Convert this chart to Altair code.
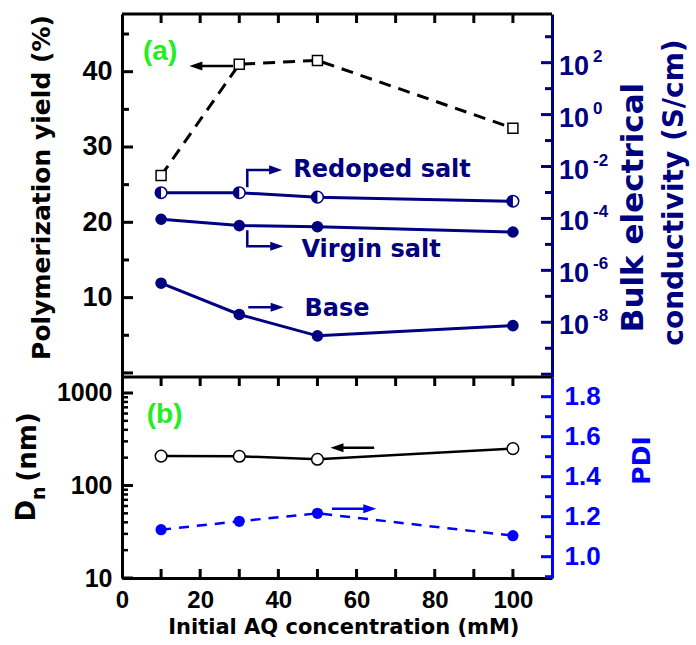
import math
import altair as alt
import pandas as pd

# ---------------- data ----------------
conc = [10, 30, 50, 100]                       # Initial AQ concentration (mM)
yield_pct = [26.2, 41.0, 41.5, 32.5]           # Polymerization yield (%)
cond_redoped = [9.8e-4, 9.8e-4, 6.6e-4, 4.6e-4]  # S/cm
cond_virgin = [9.3e-5, 5.3e-5, 4.8e-5, 3.0e-5]
cond_base = [3.2e-7, 2.0e-8, 3.0e-9, 7.4e-9]
dn_nm = [208, 207, 192, 250]                   # D_n (nm)
pdi_vals = [1.135, 1.177, 1.217, 1.105]        # PDI

# tick values / labels
x_label_vals = [0, 20, 40, 60, 80, 100]
x_tick_vals = [10, 20, 30, 40, 50, 60, 70, 80, 90, 100]
yield_label_vals = [10, 20, 30, 40]
yield_major = [0, 10, 20, 30, 40]
yield_minor = [5, 15, 25, 35, 45]
cond_label_vals = [1e2, 1e0, 1e-2, 1e-4, 1e-6, 1e-8]
cond_label_exp = ["2", "0", "-2", "-4", "-6", "-8"]
cond_major = [1e-10, 1e-8, 1e-6, 1e-4, 1e-2, 1e0, 1e2]
cond_minor = [1e-9, 1e-7, 1e-5, 1e-3, 1e-1, 1e1, 1e3]
dn_major = [10, 100, 1000]
dn_minor = [20, 30, 40, 50, 60, 70, 80, 90, 200, 300, 400, 500, 600, 700, 800, 900]
pdi_major = [1.0, 1.2, 1.4, 1.6, 1.8]
pdi_minor = [0.9, 1.1, 1.3, 1.5, 1.7]

# annotation arrows (data coordinates)
yield_arrow_x = [18.9, 28.4]
yield_arrow_y = 40.76
redoped_arrow_x = [32.05, 32.05, 39.3]
redoped_arrow_y = [1.6e-3, 7.4e-3, 7.4e-3]
virgin_arrow_x = [32.05, 32.05, 39.6]
virgin_arrow_y = [3.5e-5, 8.5e-6, 8.5e-6]
base_arrow_x = [32.3, 39.7]
base_arrow_y = 3.8e-8
dn_arrow_x = [55.0, 64.5]
dn_arrow_y = 256
pdi_arrow_x = [53.7, 63.4]
pdi_arrow_y = 1.24

series_labels = ["Redoped salt", "Virgin salt", "Base"]
series_label_x = [43.8, 45.9, 46.7]
series_label_y = [4.0e-3, 3.3e-6, 1.8e-8]

# ---------------- style ----------------
NAVY = "#000080"
BLUE = "#0000FF"
GREEN = "#22EE22"
NUMF = "Liberation Sans"
WORDF = "DejaVu Sans"
W, H, SPLIT = 430, 564, 363
X_DOM = [0, 110]
YIELD_DOM = [-0.54, 47.66]
COND_DOM = [7.8e-11, 7.5e3]
DN_DOM = [10, 1489]
PDI_DOM = [0.8935, 1.8985]

LEFT_HEAD = "M-1,0L1,-0.7L1,0.7Z"
RIGHT_HEAD = "M1,0L-1,-0.7L-1,0.7Z"
HALF_LEFT = "M0,-1A1,1,0,0,0,0,1Z"

X_SCALE = alt.Scale(domain=X_DOM, nice=False, zero=False)
Y_YIELD = alt.Scale(domain=YIELD_DOM, range=[SPLIT, 0], nice=False, zero=False)
Y_COND = alt.Scale(type="log", domain=COND_DOM, range=[SPLIT, 0], nice=False)
Y_DN = alt.Scale(type="log", domain=DN_DOM, range=[H, SPLIT], nice=False)
Y_PDI = alt.Scale(domain=PDI_DOM, range=[H, SPLIT], nice=False, zero=False)

LAB = dict(labelFont=NUMF, labelFontWeight="bold", labelFlush=False, labelOverlap=False)

X_AXIS = alt.Axis(orient="bottom", values=x_label_vals, title=None, ticks=False, tickSize=0,
                  grid=False, domainColor="black", domainWidth=3, labelFontSize=24,
                  labelColor="black", labelPadding=10, **LAB)
Y_YIELD_AXIS = alt.Axis(orient="left", values=yield_label_vals, title=None, ticks=False,
                        tickSize=0, grid=False, domainColor="black", domainWidth=3,
                        labelFontSize=27, labelColor="black", labelPadding=10, **LAB)
Y_COND_AXIS = alt.Axis(orient="right", labels=False, ticks=False, tickSize=0, grid=False,
                       title=None, domainColor=NAVY, domainWidth=3)
Y_DN_AXIS = alt.Axis(orient="left", values=dn_major, format="d", title=None, ticks=False,
                     tickSize=0, grid=False, domainColor="black", domainWidth=3,
                     labelFontSize=25, labelColor="black", labelPadding=10, **LAB)
Y_PDI_AXIS = alt.Axis(orient="right", values=pdi_major, format=".1f", title=None,
                      ticks=False, tickSize=0, grid=False, domainColor=BLUE, domainWidth=3,
                      labelFontSize=26, labelColor=BLUE, labelPadding=12, **LAB)

PX = (X_DOM[1] - X_DOM[0]) / W  # x data units per pixel


def X(field):
    return alt.X(field, type="quantitative", scale=X_SCALE, axis=X_AXIS)


def Yy(field, scale, axis):
    return alt.Y(field, type="quantitative", scale=scale, axis=axis)


ONE = pd.DataFrame({"k": [0]})


def ptext(text, x, y, size, color, angle=0, align="center", font=WORDF):
    return alt.Chart(ONE).mark_text(
        font=font, fontSize=size, fontWeight="bold", color=color, angle=angle,
        align=align, baseline="alphabetic"
    ).encode(x=alt.value(x), y=alt.value(y), text=alt.value(text))


def vticks(vals, scale, axis, side, length, color, width=3):
    """inward ticks on a vertical edge: short horizontal rules"""
    if side == "left":
        x0, x1 = X_DOM[0], X_DOM[0] + length * PX
    else:
        x0, x1 = X_DOM[1] - length * PX, X_DOM[1]
    df = pd.DataFrame({"tv": vals, "tx0": [x0] * len(vals), "tx1": [x1] * len(vals)})
    return alt.Chart(df).mark_rule(color=color, strokeWidth=width).encode(
        y=Yy("tv", scale, axis), x=X("tx0"), x2=alt.X2("tx1"))


def hticks(y0, y1, scale, axis):
    """inward ticks on a horizontal edge: short vertical rules"""
    n = len(x_tick_vals)
    df = pd.DataFrame({"tx": x_tick_vals, "y0": [y0] * n, "y1": [y1] * n})
    return alt.Chart(df).mark_rule(color="black", strokeWidth=3).encode(
        x=X("tx"), y=Yy("y0", scale, axis), y2=alt.Y2("y1"))


# ---------------- top-left: yield ----------------
df_yield = pd.DataFrame({"conc": conc, "yield": yield_pct})
YA = lambda f: Yy(f, Y_YIELD, Y_YIELD_AXIS)
yield_line = alt.Chart(df_yield).mark_line(color="black", strokeWidth=3, strokeDash=[12, 8]).encode(
    x=X("conc"), y=YA("yield"))
yield_pts = alt.Chart(df_yield).mark_point(shape="square", size=100, filled=True, fill="white",
                                           stroke="black", strokeWidth=1.5, opacity=1).encode(
    x=X("conc"), y=YA("yield"))
df_ya = pd.DataFrame({"x": yield_arrow_x, "y": [yield_arrow_y] * 2})
yield_arrow = alt.Chart(df_ya).mark_line(color="black", strokeWidth=2.5).encode(x=X("x"), y=YA("y"))
yield_head = alt.Chart(df_ya.iloc[:1]).mark_point(shape=LEFT_HEAD, size=170, filled=True,
                                                   color="black", opacity=1).encode(x=X("x"), y=YA("y"))
ypp = (YIELD_DOM[1] - YIELD_DOM[0]) / SPLIT
top_left = alt.layer(
    yield_line, yield_pts, yield_arrow, yield_head,
    hticks(YIELD_DOM[1], YIELD_DOM[1] - 9 * ypp, Y_YIELD, Y_YIELD_AXIS),
    vticks(yield_major, Y_YIELD, Y_YIELD_AXIS, "left", 11, "black"),
    vticks(yield_minor, Y_YIELD, Y_YIELD_AXIS, "left", 7, "black"),
)

# ---------------- top-right: conductivity ----------------
df_cond = pd.DataFrame({
    "conc": conc * 3,
    "cond": cond_redoped + cond_virgin + cond_base,
    "series": ["Redoped salt"] * 4 + ["Virgin salt"] * 4 + ["Base"] * 4,
})
CY = lambda f: Yy(f, Y_COND, Y_COND_AXIS)
cond_lines = alt.Chart(df_cond).mark_line(color=NAVY, strokeWidth=3).encode(
    x=X("conc"), y=CY("cond"), detail="series:N")
df_full = df_cond[df_cond.series != "Redoped salt"]
df_half = df_cond[df_cond.series == "Redoped salt"]
cond_full = alt.Chart(df_full).mark_point(shape="circle", size=135, filled=True, color=NAVY,
                                          opacity=1).encode(x=X("conc"), y=CY("cond"))
cond_half_bg = alt.Chart(df_half).mark_point(shape="circle", size=135, filled=True, fill="white",
                                             stroke=NAVY, strokeWidth=1.5, opacity=1).encode(
    x=X("conc"), y=CY("cond"))
cond_half_fg = alt.Chart(df_half).mark_point(shape=HALF_LEFT, size=135, filled=True, color=NAVY,
                                             opacity=1).encode(x=X("conc"), y=CY("cond"))
df_ra = pd.DataFrame({"x": redoped_arrow_x, "y": redoped_arrow_y, "o": [0, 1, 2]})
df_va = pd.DataFrame({"x": virgin_arrow_x, "y": virgin_arrow_y, "o": [0, 1, 2]})
df_ba = pd.DataFrame({"x": base_arrow_x, "y": [base_arrow_y] * 2, "o": [0, 1]})
cond_arrows = []
for d in (df_ra, df_va, df_ba):
    cond_arrows.append(alt.Chart(d).mark_line(color=NAVY, strokeWidth=2.5).encode(
        x=X("x"), y=CY("y"), order="o:Q"))
    cond_arrows.append(alt.Chart(d.iloc[-1:]).mark_point(shape=RIGHT_HEAD, size=170, filled=True,
                                                          color=NAVY, opacity=1).encode(
        x=X("x"), y=CY("y")))
df_sl = pd.DataFrame({"x": series_label_x, "y": series_label_y, "t": series_labels})
series_text = alt.Chart(df_sl).mark_text(font=WORDF, fontSize=24, fontWeight="bold", color=NAVY,
                                         align="left", baseline="alphabetic").encode(
    x=X("x"), y=CY("y"), text="t:N")
df_cl = pd.DataFrame({"v": cond_label_vals, "e": cond_label_exp})
cond_lab10 = alt.Chart(df_cl).mark_text(font=NUMF, fontSize=27, fontWeight="bold", color=NAVY,
                                        align="left", baseline="alphabetic", dy=12).encode(
    y=CY("v"), x=alt.value(W + 7), text=alt.value("10"))
cond_labexp = alt.Chart(df_cl).mark_text(font=NUMF, fontSize=17, fontWeight="bold", color=NAVY,
                                         align="left", baseline="alphabetic", dy=-1).encode(
    y=CY("v"), x=alt.value(W + 41), text="e:N")
top_right = alt.layer(
    cond_lines, cond_full, cond_half_bg, cond_half_fg, *cond_arrows, series_text,
    vticks(cond_major, Y_COND, Y_COND_AXIS, "right", 11, NAVY),
    vticks(cond_minor, Y_COND, Y_COND_AXIS, "right", 7, NAVY),
    cond_lab10, cond_labexp,
)

# ---------------- bottom-left: Dn ----------------
df_dn = pd.DataFrame({"conc": conc, "dn": dn_nm})
DY = lambda f: Yy(f, Y_DN, Y_DN_AXIS)
dn_line = alt.Chart(df_dn).mark_line(color="black", strokeWidth=2.5).encode(x=X("conc"), y=DY("dn"))
dn_pts = alt.Chart(df_dn).mark_point(shape="circle", size=135, filled=True, fill="white",
                                     stroke="black", strokeWidth=1.5, opacity=1).encode(
    x=X("conc"), y=DY("dn"))
df_da = pd.DataFrame({"x": dn_arrow_x, "y": [dn_arrow_y] * 2})
dn_arrow = alt.Chart(df_da).mark_line(color="black", strokeWidth=2.5).encode(x=X("x"), y=DY("y"))
dn_head = alt.Chart(df_da.iloc[:1]).mark_point(shape=LEFT_HEAD, size=170, filled=True,
                                                color="black", opacity=1).encode(x=X("x"), y=DY("y"))
fpp = 10 ** ((math.log10(DN_DOM[1]) - math.log10(DN_DOM[0])) / (H - SPLIT))  # factor per pixel
bottom_left = alt.layer(
    dn_line, dn_pts, dn_arrow, dn_head,
    hticks(DN_DOM[1], DN_DOM[1] / fpp ** 9, Y_DN, Y_DN_AXIS),
    hticks(DN_DOM[0], DN_DOM[0] * fpp ** 9, Y_DN, Y_DN_AXIS),
    vticks(dn_major, Y_DN, Y_DN_AXIS, "left", 11, "black"),
    vticks(dn_minor, Y_DN, Y_DN_AXIS, "left", 6, "black", 2.5),
)

# ---------------- bottom-right: PDI ----------------
df_pdi = pd.DataFrame({"conc": conc, "pdi": pdi_vals})
PY = lambda f: Yy(f, Y_PDI, Y_PDI_AXIS)
pdi_line = alt.Chart(df_pdi).mark_line(color=BLUE, strokeWidth=2.5, strokeDash=[10, 8]).encode(
    x=X("conc"), y=PY("pdi"))
pdi_pts = alt.Chart(df_pdi).mark_point(shape="circle", size=125, filled=True, color=BLUE,
                                       opacity=1).encode(x=X("conc"), y=PY("pdi"))
df_pa = pd.DataFrame({"x": pdi_arrow_x, "y": [pdi_arrow_y] * 2})
pdi_arrow = alt.Chart(df_pa).mark_line(color=BLUE, strokeWidth=2.5).encode(x=X("x"), y=PY("y"))
pdi_head = alt.Chart(df_pa.iloc[-1:]).mark_point(shape=RIGHT_HEAD, size=170, filled=True,
                                                  color=BLUE, opacity=1).encode(x=X("x"), y=PY("y"))
bottom_right = alt.layer(
    pdi_line, pdi_pts, pdi_arrow, pdi_head,
    vticks(pdi_major, Y_PDI, Y_PDI_AXIS, "right", 11, BLUE),
    vticks(pdi_minor, Y_PDI, Y_PDI_AXIS, "right", 7, BLUE),
)

# ---------------- frame and titles ----------------
top_rule = alt.Chart(ONE).mark_rule(color="black", strokeWidth=3).encode(
    x=alt.value(0), x2=alt.value(W), y=alt.value(0))
split_rule = alt.Chart(ONE).mark_rule(color="black", strokeWidth=3).encode(
    x=alt.value(0), x2=alt.value(W), y=alt.value(SPLIT))

frame = alt.layer(
    top_rule, split_rule,
    ptext("Polymerization yield (%)", -72, 173.5, 25, "black", angle=270),
    ptext("Bulk electrical", 520.7, 193.5, 31, NAVY, angle=270),
    ptext("conductivity (S/cm)", 561, 178.5, 28, NAVY, angle=270),
    ptext("D", -87, 496.8, 26, "black", angle=270),
    ptext("n", -77, 479.3, 19, "black", angle=270),
    ptext("(nm)", -86, 433, 26, "black", angle=270),
    ptext("PDI", 528, 446.5, 25, BLUE, angle=270),
    ptext("Initial AQ concentration (mM)", 221.8, 620.3, 21, "black"),
    ptext("(a)", 21, 46, 28, GREEN, align="left", font=NUMF),
    ptext("(b)", 24.7, 409.3, 28, GREEN, align="left", font=NUMF),
)

chart = alt.layer(top_left, top_right, bottom_left, bottom_right, frame).resolve_scale(
    y="independent"
).properties(
    width=W, height=H,
    autosize=alt.AutoSizeParams(type="none"),
    padding={"left": 122, "top": 14, "right": 144, "bottom": 67},
).configure_view(stroke=None)

chart.save("out.html", embed_options={"renderer": "svg", "actions": False})
